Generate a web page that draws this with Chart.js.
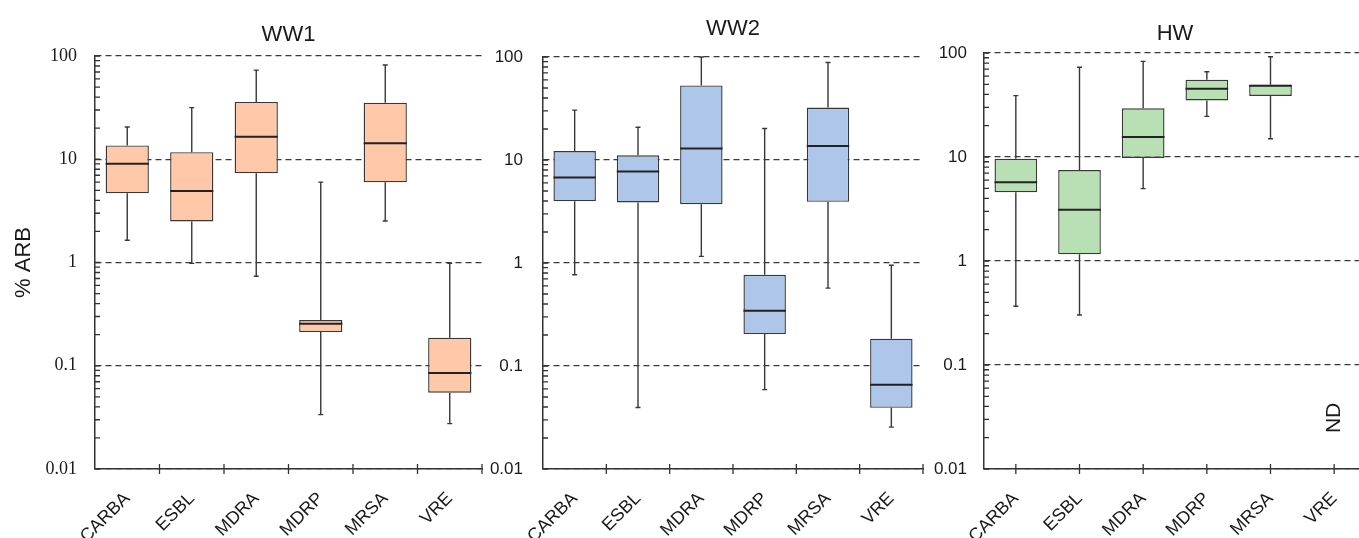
<!DOCTYPE html>
<html><head><meta charset="utf-8">
<script src="https://cdn.jsdelivr.net/npm/chart.js@4"></script>
<style>
html,body{margin:0;padding:0;background:#fff;overflow:hidden;width:1359px;height:538px;}
canvas{position:absolute;top:0;}
</style></head><body>
<canvas id="c1" width="490" height="538" style="left:0px"></canvas>
<canvas id="c2" width="440" height="538" style="left:490px"></canvas>
<canvas id="c3" width="440" height="538" style="left:930px"></canvas>
<script>
// ---- data ----
const categories = ['CARBA', 'ESBL', 'MDRA', 'MDRP', 'MRSA', 'VRE'];

const ww1Min = [1.64, 0.98, 0.735, 0.0336, 2.52, 0.0275];
const ww1Q1  = [4.68, 2.5, 7.3, 0.212, 5.98, 0.0548];
const ww1Med = [9.05, 4.92, 16.5, 0.255, 14.3, 0.085];
const ww1Q3  = [13.6, 11.7, 35.9, 0.277, 35.3, 0.187];
const ww1Max = [20.5, 31.6, 73, 6.0, 81.8, 0.98];

const ww2Min = [0.77, 0.0395, 1.16, 0.059, 0.57, 0.0255];
const ww2Q1  = [3.98, 3.87, 3.72, 0.204, 3.93, 0.0393];
const ww2Med = [6.76, 7.73, 12.9, 0.343, 13.7, 0.0656];
const ww2Q3  = [12.2, 11.1, 53, 0.768, 32.3, 0.184];
const ww2Max = [30.5, 20.8, 100, 20.2, 88.5, 0.95];

const hwMin = [0.367, 0.303, 4.96, 24.6, 15, null];
const hwQ1  = [4.58, 1.16, 9.8, 35, 38.6, null];
const hwMed = [5.71, 3.11, 15.6, 45.4, 48.5, null];
const hwQ3  = [9.6, 7.5, 29.4, 55.4, 49.6, null];
const hwMax = [38.9, 73, 83, 66, 92, null];

const yTickValues = [0.01, 0.1, 1, 10, 100];
const yTickLabels = ['0.01', '0.1', '1', '10', '100'];
const panelTitles = ['WW1', 'WW2', 'HW'];
const yAxisTitle = '% ARB';
const ndText = 'ND';

// ---- styling ----
const textColor = '#1a1a1a';
const axisColor = '#333333';
const gridColor = '#3a3a3a';
const boxBorder = '#383838';

// minor + major log ticks
const yAllTicks = [];
for (let d = 0; d < yTickValues.length - 1; d++) {
  for (let k = 1; k <= 9; k++) yAllTicks.push(+(yTickValues[d] * k).toPrecision(6));
}
yAllTicks.push(yTickValues[yTickValues.length - 1]);

function majorIndex(v) {
  if (v == null) return -1;
  return yTickValues.findIndex(t => Math.abs(t - v) / t < 1e-6);
}

function boxPlugin(st) {
  return {
    id: 'boxWhiskers',
    afterDatasetsDraw(chart) {
      const ctx = chart.ctx;
      const y = chart.scales.y;
      const meta = chart.getDatasetMeta(0);
      ctx.save();
      ctx.strokeStyle = boxBorder;
      meta.data.forEach((bar, i) => {
        if (st.min[i] == null) return;
        const x = bar.x, w = bar.width, cap = 2.5;
        const pMin = y.getPixelForValue(st.min[i]);
        const pMax = y.getPixelForValue(st.max[i]);
        const pQ1 = y.getPixelForValue(st.q1[i]);
        const pQ3 = y.getPixelForValue(st.q3[i]);
        const pMed = y.getPixelForValue(st.med[i]);
        ctx.lineWidth = 1.4;
        ctx.beginPath();
        ctx.moveTo(x, pQ3); ctx.lineTo(x, pMax);
        ctx.moveTo(x, pQ1); ctx.lineTo(x, pMin);
        ctx.moveTo(x - cap, pMax); ctx.lineTo(x + cap, pMax);
        ctx.moveTo(x - cap, pMin); ctx.lineTo(x + cap, pMin);
        ctx.stroke();
        ctx.lineWidth = 2;
        ctx.strokeStyle = '#222';
        ctx.beginPath();
        ctx.moveTo(x - w / 2, pMed); ctx.lineTo(x + w / 2, pMed);
        ctx.stroke();
        ctx.strokeStyle = boxBorder;
      });
      ctx.restore();
    }
  };
}

function axisTicksPlugin(mode) {
  return {
    id: 'axisTicks',
    afterDraw(chart) {
      const {ctx, chartArea} = chart;
      const x = chart.scales.x, y = chart.scales.y;
      ctx.save();
      ctx.strokeStyle = axisColor;
      ctx.lineWidth = 1.3;
      ctx.beginPath();
      y.ticks.forEach(t => {
        const py = y.getPixelForValue(t.value);
        ctx.moveTo(chartArea.left, py); ctx.lineTo(chartArea.left + 5, py);
      });
      for (let i = 0; i < x.ticks.length; i++) {
        const px = x.getPixelForValue(mode === 'between' ? i + 0.5 : i);
        ctx.moveTo(px, chartArea.bottom - 5); ctx.lineTo(px, chartArea.bottom + 5);
      }
      ctx.stroke();
      ctx.restore();
    }
  };
}

function ndPlugin(label, catIndex, value) {
  return {
    id: 'ndLabel',
    afterDraw(chart) {
      const ctx = chart.ctx;
      const px = chart.scales.x.getPixelForValue(catIndex);
      const py = chart.scales.y.getPixelForValue(value);
      ctx.save();
      ctx.translate(px, py);
      ctx.rotate(-Math.PI / 2);
      ctx.fillStyle = textColor;
      ctx.font = '21px "Liberation Sans"';
      ctx.textAlign = 'center';
      ctx.textBaseline = 'middle';
      ctx.fillText(label, 0, 0);
      ctx.restore();
    }
  };
}

function makePanel(id, cfg) {
  const boxData = cfg.q1.map((v, i) => v == null ? null : [v, cfg.q3[i]]);
  const plugins = [boxPlugin(cfg), axisTicksPlugin(cfg.tickMode)];
  if (cfg.extra) plugins.push(cfg.extra);
  return new Chart(document.getElementById(id), {
    type: 'bar',
    data: {
      labels: categories,
      datasets: [{
        data: boxData,
        backgroundColor: cfg.fill,
        borderColor: boxBorder,
        borderWidth: 1.4,
        borderSkipped: false,
        barPercentage: 0.67,
        categoryPercentage: 1
      }]
    },
    options: {
      responsive: false,
      animation: false,
      devicePixelRatio: 1,
      layout: { padding: { left: 0, right: cfg.padRight, top: 0, bottom: 0 } },
      plugins: {
        legend: { display: false },
        tooltip: { enabled: false },
        title: {
          display: true, text: cfg.title, fullSize: false, color: textColor,
          font: { family: 'Liberation Sans', size: 22, weight: 'normal' },
          padding: { top: cfg.titleTop, bottom: cfg.titleBottom }
        }
      },
      scales: {
        x: {
          type: 'category',
          offset: true,
          grid: { display: false },
          border: { display: true, color: axisColor, width: 1.5 },
          ticks: {
            autoSkip: false, minRotation: 45, maxRotation: 45, padding: 11,
            color: textColor, font: { family: 'Liberation Sans', size: 18 }
          },
          afterFit: s => { s.height = 69; }
        },
        y: {
          type: 'logarithmic',
          min: 0.01, max: 100,
          afterBuildTicks: s => { s.ticks = yAllTicks.map(v => ({ value: v })); },
          ticks: {
            autoSkip: false, padding: cfg.labelPad, color: textColor, font: cfg.yFont,
            callback: v => { const k = majorIndex(v); return k >= 0 ? yTickLabels[k] : ''; }
          },
          grid: {
            drawTicks: false, lineWidth: 1.3,
            color: c => (c.tick && majorIndex(c.tick.value) >= 0) ? gridColor : 'rgba(0,0,0,0)'
          },
          border: { display: true, color: axisColor, width: 1.5, dash: [6, 4] },
          title: cfg.yTitle ? {
            display: true, text: cfg.yTitle, color: textColor,
            font: { family: 'Liberation Sans', size: 22 }, padding: { top: 11, bottom: 0 }
          } : { display: false },
          afterFit: s => { s.width = cfg.yWidth; }
        }
      }
    },
    plugins
  });
}

makePanel('c1', {
  title: panelTitles[0], min: ww1Min, q1: ww1Q1, med: ww1Med, q3: ww1Q3, max: ww1Max,
  fill: '#FFC9A9', tickMode: 'between', padRight: 8, yWidth: 95, labelPad: 18,
  yFont: { family: 'Liberation Serif', size: 18 }, titleTop: 22, titleBottom: 7.6, yTitle: yAxisTitle
});
makePanel('c2', {
  title: panelTitles[1], min: ww2Min, q1: ww2Q1, med: ww2Med, q3: ww2Q3, max: ww2Max,
  fill: '#AFC6EB', tickMode: 'between', padRight: 7, yWidth: 53, labelPad: 20,
  yFont: { family: 'Liberation Sans', size: 17 }, titleTop: 16, titleBottom: 14.6
});
makePanel('c3', {
  title: panelTitles[2], min: hwMin, q1: hwQ1, med: hwMed, q3: hwQ3, max: hwMax,
  fill: '#B9E0B4', tickMode: 'center', padRight: 4, yWidth: 54, labelPad: 17,
  yFont: { family: 'Liberation Sans', size: 17 }, titleTop: 21, titleBottom: 5.6,
  extra: ndPlugin(ndText, 5, 0.031)
});
</script>
</body></html>
